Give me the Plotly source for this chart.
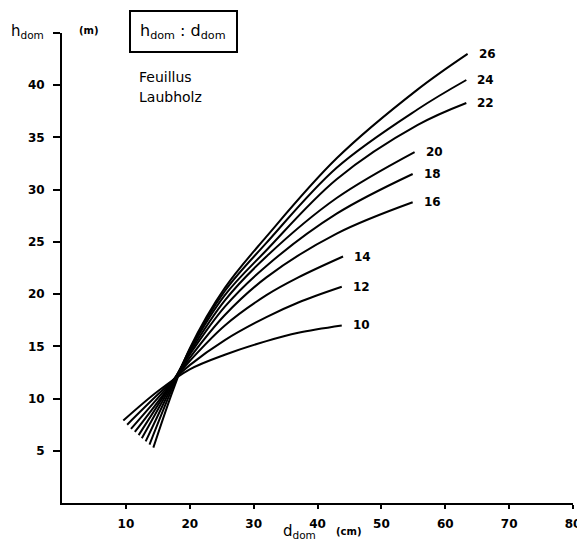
import plotly.graph_objects as go

# Site index classes (curve labels)
classes = ["10", "12", "14", "16", "18", "20", "22", "24", "26"]

# dominant diameter (cm) / dominant height (m)
d_10 = [9.6, 15.0, 20.0, 25.5, 32.0, 37.0, 43.8]
h_10 = [7.9, 10.7, 12.8, 14.2, 15.5, 16.3, 17.0]
d_12 = [10.2, 15.2, 20.0, 25.5, 32.0, 37.0, 43.8]
h_12 = [7.5, 10.5, 13.2, 15.6, 17.8, 19.2, 20.7]
d_14 = [10.8, 15.5, 20.0, 25.5, 32.0, 37.0, 44.0]
h_14 = [7.1, 10.4, 13.6, 17.0, 19.9, 21.6, 23.6]
d_16 = [11.4, 16.0, 20.0, 25.5, 32.0, 43.0, 54.9]
h_16 = [6.8, 10.5, 13.9, 18.0, 21.6, 25.8, 28.8]
d_18 = [12.0, 16.3, 20.0, 25.5, 32.0, 43.0, 54.9]
h_18 = [6.5, 10.6, 14.2, 18.8, 22.7, 27.7, 31.5]
d_20 = [12.5, 16.6, 20.0, 25.5, 32.0, 43.0, 55.2]
h_20 = [6.2, 10.7, 14.4, 19.4, 23.6, 29.2, 33.6]
d_22 = [13.1, 16.9, 20.0, 25.5, 32.0, 43.0, 55.7, 63.3]
h_22 = [5.9, 10.8, 14.6, 19.9, 24.2, 31.0, 36.2, 38.3]
d_24 = [13.7, 17.2, 20.0, 25.5, 32.0, 43.0, 55.7, 63.3]
h_24 = [5.6, 10.9, 14.7, 20.3, 24.9, 32.1, 37.7, 40.5]
d_26 = [14.3, 17.5, 20.0, 25.5, 32.0, 43.0, 55.7, 63.5]
h_26 = [5.3, 11.0, 14.8, 20.6, 25.5, 33.0, 39.6, 43.0]

x_ticks = [10, 20, 30, 40, 50, 60, 70, 80]
y_ticks = [5, 10, 15, 20, 25, 30, 35, 40, 45]
y_ticktext = ["5", "10", "15", "20", "25", "30", "35", "40", ""]

series = [
    (classes[0], d_10, h_10), (classes[1], d_12, h_12), (classes[2], d_14, h_14),
    (classes[3], d_16, h_16), (classes[4], d_18, h_18), (classes[5], d_20, h_20),
    (classes[6], d_22, h_22), (classes[7], d_24, h_24), (classes[8], d_26, h_26),
]

FONT = "DejaVu Sans"
fig = go.Figure()
annotations = []
for name, d, h in series:
    fig.add_trace(go.Scatter(x=d, y=h, mode="lines", name=name,
                             line=dict(color="black", width=2, shape="spline"),
                             showlegend=False, hoverinfo="skip"))
    annotations.append(dict(x=d[-1], y=h[-1], xref="x", yref="y", text=name,
                            showarrow=False, xanchor="left", yanchor="middle",
                            xshift=9, font=dict(family=FONT, size=12, color="black",
                                                weight="bold")))

W, H = 577, 545
ML, MR, MT, MB = 62, 4, 33, 42
PW, PH = W - ML - MR, H - MT - MB


def px(xp):
    return (xp - ML) / PW


def py(yp):
    return (H - MB - yp) / PH


annotations += [
    dict(x=px(27), y=py(31), xref="paper", yref="paper", text="h<sub>dom</sub>",
         showarrow=False, xanchor="center", yanchor="middle",
         font=dict(family=FONT, size=15, color="black")),
    dict(x=px(89), y=py(30), xref="paper", yref="paper", text="(m)",
         showarrow=False, xanchor="center", yanchor="middle",
         font=dict(family=FONT, size=10, color="black", weight="bold")),
    dict(x=px(183), y=py(32), xref="paper", yref="paper",
         text="h<sub>dom</sub> : d<sub>dom</sub>",
         showarrow=False, xanchor="center", yanchor="middle",
         font=dict(family=FONT, size=16, color="black")),
    dict(x=px(137), y=py(77), xref="paper", yref="paper", text="Feuillus",
         showarrow=False, xanchor="left", yanchor="middle",
         font=dict(family=FONT, size=14, color="black")),
    dict(x=px(137), y=py(97), xref="paper", yref="paper", text="Laubholz",
         showarrow=False, xanchor="left", yanchor="middle",
         font=dict(family=FONT, size=14, color="black")),
    dict(x=px(299), y=py(531), xref="paper", yref="paper", text="d<sub>dom</sub>",
         showarrow=False, xanchor="center", yanchor="middle",
         font=dict(family=FONT, size=15, color="black")),
    dict(x=px(349), y=py(531), xref="paper", yref="paper", text="(cm)",
         showarrow=False, xanchor="center", yanchor="middle",
         font=dict(family=FONT, size=10, color="black", weight="bold")),
]

shapes = [dict(type="rect", xref="paper", yref="paper",
               x0=px(130), x1=px(237), y0=py(52), y1=py(11),
               line=dict(color="black", width=2))]

fig.update_layout(
    width=W, height=H,
    margin=dict(l=ML, r=MR, t=MT, b=MB),
    plot_bgcolor="white", paper_bgcolor="white",
    annotations=annotations, shapes=shapes,
    font=dict(family=FONT, color="black"),
    xaxis=dict(range=[0, 80], tickvals=x_ticks, showgrid=False, zeroline=False,
               showline=True, linecolor="black", linewidth=2, automargin=False,
               ticks="outside", ticklen=4, tickwidth=2, tickcolor="black",
               tickfont=dict(family=FONT, size=12, color="black", weight="bold"),
               ticklabelstandoff=5, ticklabeloverflow="allow"),
    yaxis=dict(range=[0, 45], tickvals=y_ticks, ticktext=y_ticktext,
               showgrid=False, zeroline=False, automargin=False,
               showline=True, linecolor="black", linewidth=2,
               ticks="outside", ticklen=7, tickwidth=2, tickcolor="black",
               tickfont=dict(family=FONT, size=12, color="black", weight="bold"),
               ticklabelstandoff=6),
)

fig.write_html("out.html", config={"displayModeBar": False},
               post_script="document.body.style.margin='0px';document.body.style.padding='0px';")
